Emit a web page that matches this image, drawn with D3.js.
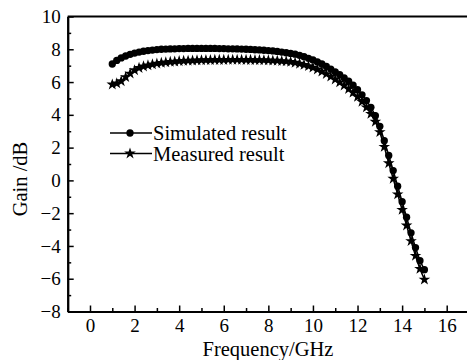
<!DOCTYPE html>
<html><head><meta charset="utf-8">
<script src="https://cdn.jsdelivr.net/npm/d3@7"></script>
<style>body{margin:0;background:#fff}svg{display:block}svg text{font-family:"Liberation Serif","Times New Roman",serif !important;fill:#000}</style>
</head><body><svg id="c" width="467" height="360"></svg>
<script>
const freq = [1.0,1.2,1.4,1.6,1.8,2.0,2.2,2.4,2.6,2.8,3.0,3.2,3.4,3.6,3.8,4.0,4.2,4.4,4.6,4.8,5.0,5.2,5.4,5.6,5.8,6.0,6.2,6.4,6.6,6.8,7.0,7.2,7.4,7.6,7.8,8.0,8.2,8.4,8.6,8.8,9.0,9.2,9.4,9.6,9.8,10.0,10.2,10.4,10.6,10.8,11.0,11.2,11.4,11.6,11.8,12.0,12.2,12.4,12.6,12.8,13.0,13.2,13.4,13.6,13.8,14.0,14.2,14.4,14.6,14.8,15.0];
const simulated = [7.10,7.32,7.47,7.59,7.69,7.77,7.83,7.88,7.92,7.95,7.98,8.00,8.01,8.02,8.03,8.04,8.04,8.05,8.05,8.05,8.05,8.05,8.05,8.05,8.04,8.04,8.03,8.03,8.02,8.01,8.00,7.99,7.97,7.96,7.94,7.92,7.90,7.87,7.83,7.79,7.75,7.70,7.63,7.55,7.45,7.35,7.23,7.10,6.95,6.79,6.62,6.45,6.26,6.05,5.81,5.53,5.22,4.87,4.46,3.95,3.30,2.42,1.52,0.60,-0.35,-1.30,-2.25,-3.20,-4.10,-4.90,-5.45];
const measured = [5.85,5.92,6.05,6.30,6.52,6.72,6.86,6.95,7.02,7.08,7.13,7.17,7.20,7.23,7.25,7.27,7.29,7.30,7.31,7.32,7.33,7.34,7.34,7.35,7.35,7.35,7.36,7.36,7.36,7.36,7.35,7.35,7.34,7.34,7.33,7.32,7.31,7.30,7.28,7.26,7.23,7.18,7.12,7.05,6.97,6.88,6.77,6.64,6.49,6.33,6.16,5.98,5.79,5.58,5.36,5.10,4.80,4.46,4.06,3.58,2.95,2.05,1.05,0.10,-0.85,-1.80,-2.75,-3.70,-4.60,-5.40,-6.05];
const xTicks = [0,2,4,6,8,10,12,14,16];
const xMinor = [-1,1,3,5,7,9,11,13,15,17];
const yTicks = [-8,-6,-4,-2,0,2,4,6,8,10];
const yMinor = [-7,-5,-3,-1,1,3,5,7,9];
const seriesNames = ["Simulated result","Measured result"];
const xTitle = "Frequency/GHz", yTitle = "Gain /dB";

const svg = d3.select("#c");
const x = d3.scaleLinear().domain([-1,17]).range([67.7,469]);
const y = d3.scaleLinear().domain([-8,10]).range([311.5,16.5]);
const fmt = d=>d<0?"\u2212"+(-d):String(d);

svg.append("line").attr("x1",x(-1)).attr("x2",467).attr("y1",y(10)).attr("y2",y(10)).attr("stroke","#000").attr("stroke-width",2);

const gx = svg.append("g").attr("transform",`translate(0,${y(-8)})`);
gx.call(d3.axisBottom(x).tickValues(xTicks).tickSizeInner(-6).tickSizeOuter(0).tickPadding(7.5).tickFormat(fmt));
gx.append("g").call(d3.axisBottom(x).tickValues(xMinor).tickSizeInner(-3.5).tickSizeOuter(0).tickFormat(""));
const gy = svg.append("g").attr("transform",`translate(${x(-1)},0)`);
gy.call(d3.axisLeft(y).tickValues(yTicks).tickSizeInner(-6).tickSizeOuter(0).tickPadding(7).tickFormat(fmt));
gy.append("g").call(d3.axisLeft(y).tickValues(yMinor).tickSizeInner(-3.5).tickSizeOuter(0).tickFormat(""));
svg.selectAll("g").attr("font-family",null);
svg.selectAll(".domain").attr("stroke","#000").attr("stroke-width",2);
svg.selectAll(".tick line").attr("stroke","#000").attr("stroke-width",1.5);
svg.selectAll(".tick text").style("font-size","19px");
gx.selectAll(".tick text").attr("dy","0.71em");

svg.append("text").attr("x",268).attr("y",355.5).attr("text-anchor","middle").style("font-size","20.5px").text(xTitle);
svg.append("text").attr("transform","translate(27,179) rotate(-90)").attr("text-anchor","middle").style("font-size","20.5px").text(yTitle);

const line = d3.line().x((d,i)=>x(freq[i])).y(d=>y(d));
const star = d3.symbol().type(d3.symbolStar).size(42);
const circ = d3.symbol().type(d3.symbolCircle).size(42);

function drawSeries(vals, sym){
  svg.append("path").attr("d",line(vals)).attr("fill","none").attr("stroke","#000").attr("stroke-width",1.5);
  svg.append("g").selectAll("path").data(vals).join("path")
    .attr("transform",(d,i)=>`translate(${x(freq[i])},${y(d)})`).attr("d",sym()).attr("fill","#000");
}
drawSeries(simulated, circ);
drawSeries(measured, star);

const leg = [[circ,133],[star,153.5]];
leg.forEach(([sym,ly],k)=>{
  svg.append("line").attr("x1",110).attr("x2",152).attr("y1",ly).attr("y2",ly).attr("stroke","#000").attr("stroke-width",1.5);
  svg.append("path").attr("transform",`translate(130,${ly})`).attr("d",sym()).attr("fill","#000");
  svg.append("text").attr("x",153).attr("y",ly).attr("dy","0.35em").style("font-size","20.5px").text(seriesNames[k]);
});
</script></body></html>
